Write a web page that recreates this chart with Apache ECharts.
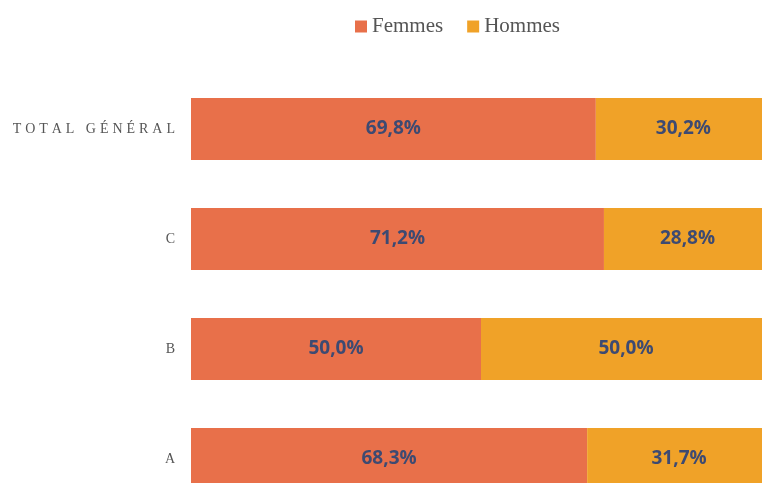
<!DOCTYPE html>
<html>
<head>
<meta charset="utf-8">
<script src="https://cdn.jsdelivr.net/npm/echarts@6/dist/echarts.min.js"></script>
<style>
  html, body { margin: 0; padding: 0; background: #fff; overflow: hidden; }
  /* the original picture is cropped on the right and bottom */
  #chart { width: 771px; height: 514px; }
</style>
</head>
<body>
<div id="chart"></div>
<script>
// categories from bottom to top
const categories = ['A', 'B', 'C', 'TOTAL GÉNÉRAL']
const femmes = [68.3, 50.0, 71.2, 69.8]
const hommes = [31.7, 50.0, 28.8, 30.2]

const chart = echarts.init(document.getElementById('chart'))

const labelStyle = {
  show: true,
  position: 'inside',
  color: '#3d4a72',
  fontFamily: 'Open Sans',
  fontWeight: 'bold',
  fontSize: 19,
  formatter(p) {
    return p.value.toFixed(1).replace('.', ',') + '%'
  }
}

chart.setOption({
  animation: false,
  legend: {
    top: 11,
    left: 350,
    itemWidth: 12,
    itemHeight: 12,
    itemGap: 24,
    icon: 'rect',
    textStyle: {
      fontFamily: 'Liberation Serif',
      fontSize: 21,
      color: '#555'
    },
    data: ['Femmes', 'Hommes']
  },
  grid: {
    left: 191,
    right: 0,
    top: 74,
    bottom: 0,
    containLabel: false
  },
  xAxis: {
    type: 'value',
    min: 0,
    max: 100,
    show: false
  },
  yAxis: {
    type: 'category',
    data: categories,
    axisLine: { show: false },
    axisTick: { show: false },
    axisLabel: {
      margin: 16,
      fontFamily: 'Liberation Serif',
      fontSize: 14,
      color: '#555',
      formatter(v) {
        // letter-spaced look of the original
        return v.length > 1 ? v.split('').join('\u2009\u200a') : v
      }
    }
  },
  series: [
    {
      name: 'Femmes',
      type: 'bar',
      stack: 'total',
      barWidth: 62,
      itemStyle: { color: '#e8704a' },
      label: labelStyle,
      data: femmes
    },
    {
      name: 'Hommes',
      type: 'bar',
      stack: 'total',
      barWidth: 62,
      itemStyle: { color: '#f0a228' },
      label: labelStyle,
      data: hommes
    }
  ]
})
</script>
</body>
</html>
